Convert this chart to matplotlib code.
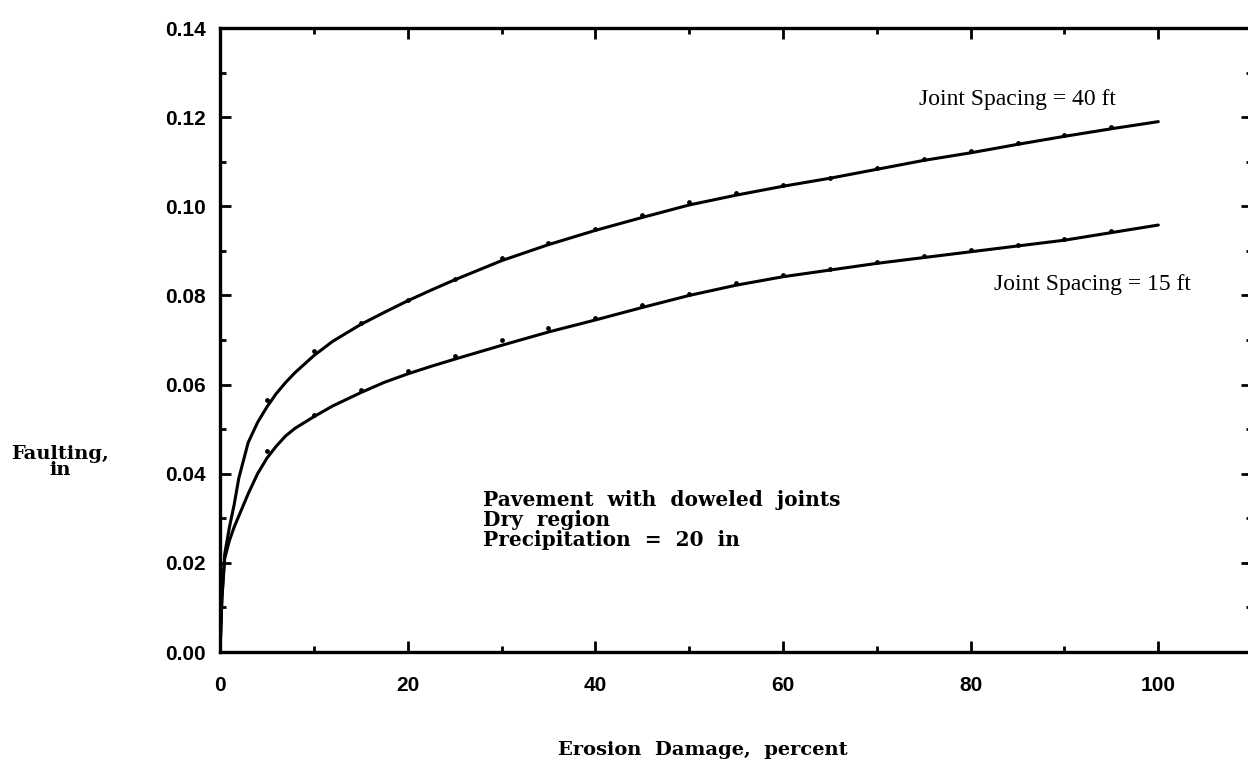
import numpy as np
import matplotlib
matplotlib.use("Agg")
import matplotlib.pyplot as plt
from matplotlib.ticker import MultipleLocator

# faulting vs erosion damage, doweled joints, dry region
x_40 = [0, 0.2, 0.5, 1, 1.5, 2, 3, 4, 5, 6, 7, 8, 10, 12, 15, 17.5, 20, 22.5, 25,
        30, 35, 40, 45, 50, 55, 60, 65, 70, 75, 80, 85, 90, 95, 100]
fault_40 = [0.0, 0.012, 0.022, 0.028, 0.033, 0.039, 0.047, 0.0515, 0.055, 0.058,
            0.0605, 0.0627, 0.0665, 0.0697, 0.0735, 0.0762, 0.0788, 0.0812, 0.0835,
            0.0878, 0.0914, 0.0946, 0.0975, 0.1003, 0.1025, 0.1045, 0.1063, 0.1083,
            0.1103, 0.112, 0.1139, 0.1157, 0.1174, 0.119]

x_15 = [0, 0.2, 0.5, 1, 1.5, 2, 3, 4, 5, 6, 7, 8, 10, 12, 15, 17.5, 20, 22.5, 25,
        30, 35, 40, 45, 50, 55, 60, 65, 70, 75, 80, 85, 90, 95, 100]
fault_15 = [0.0, 0.012, 0.021, 0.025, 0.028, 0.0305, 0.0355, 0.040, 0.0435, 0.0462,
            0.0485, 0.0502, 0.0528, 0.0552, 0.0582, 0.0605, 0.0624, 0.0641, 0.0657,
            0.0688, 0.0718, 0.0745, 0.0773, 0.0800, 0.0823, 0.0842, 0.0857, 0.0872,
            0.0885, 0.0898, 0.0911, 0.0924, 0.0941, 0.0958]

# computed points plotted as small dots next to the fitted curves
dot_x = [5, 10, 15, 20, 25, 30, 35, 40, 45, 50, 55, 60, 65, 70, 75, 80, 85, 90, 95]
dot_40 = [0.0566, 0.0675, 0.0738, 0.0790, 0.0838, 0.0884, 0.0918, 0.0950, 0.0980,
          0.1010, 0.1030, 0.1047, 0.1064, 0.1086, 0.1106, 0.1123, 0.1142, 0.1160, 0.1177]
dot_15 = [0.0452, 0.0532, 0.0588, 0.0630, 0.0664, 0.0700, 0.0726, 0.0750, 0.0778,
          0.0803, 0.0828, 0.0846, 0.0860, 0.0875, 0.0888, 0.0901, 0.0914, 0.0927, 0.0944]

notes = ["Pavement  with  doweled  joints", "Dry  region", "Precipitation  =  20  in"]

fig = plt.figure(figsize=(12.48, 7.68), dpi=100)
ax = fig.add_axes([0.1763, 0.151, 0.827, 0.8125])

ax.plot(x_40, fault_40, color="black", lw=2.2, solid_capstyle="round",
        solid_joinstyle="round")
ax.plot(x_15, fault_15, color="black", lw=2.2, solid_capstyle="round",
        solid_joinstyle="round")
ax.scatter(dot_x, dot_40, s=6, color="black", zorder=3)
ax.scatter(dot_x, dot_15, s=6, color="black", zorder=3)

ax.set_xlim(0, 110)
ax.set_ylim(0, 0.14)
ax.xaxis.set_major_locator(MultipleLocator(20))
ax.xaxis.set_minor_locator(MultipleLocator(10))
ax.yaxis.set_major_locator(MultipleLocator(0.02))
ax.yaxis.set_minor_locator(MultipleLocator(0.01))
ax.set_xticks([0, 20, 40, 60, 80, 100])
ax.yaxis.set_major_formatter(plt.FuncFormatter(lambda v, p: f"{v:.2f}"))

for s in ax.spines.values():
    s.set_linewidth(2.4)
ax.tick_params(which="major", direction="in", length=8, width=2,
               top=True, right=True, pad=10)
ax.tick_params(axis="x", which="major", pad=17)
ax.tick_params(which="minor", direction="in", length=4, width=2,
               top=True, right=True)
for lab in ax.get_xticklabels() + ax.get_yticklabels():
    lab.set_fontfamily("Liberation Sans")
    lab.set_fontweight("bold")
    lab.set_fontsize(15)

ax.text(85, 0.124, "Joint Spacing = 40 ft", family="Liberation Serif",
        fontsize=17, ha="center", va="center")
ax.text(93, 0.0825, "Joint Spacing = 15 ft", family="Liberation Serif",
        fontsize=17, ha="center", va="center")
ax.text(28, 0.0296, "\n".join(notes), family="DejaVu Serif",
        fontweight="bold", fontsize=14.5, ha="left", va="center", linespacing=1.0)

fig.text(0.048, 0.398, "Faulting,\nin", family="DejaVu Serif",
         fontweight="bold", fontsize=14, ha="center", va="center",
         linespacing=0.85)
fig.text(0.563, 0.024, "Erosion  Damage,  percent", family="DejaVu Serif",
         fontweight="bold", fontsize=14, ha="center", va="center")

fig.savefig("out.png", dpi=100)
